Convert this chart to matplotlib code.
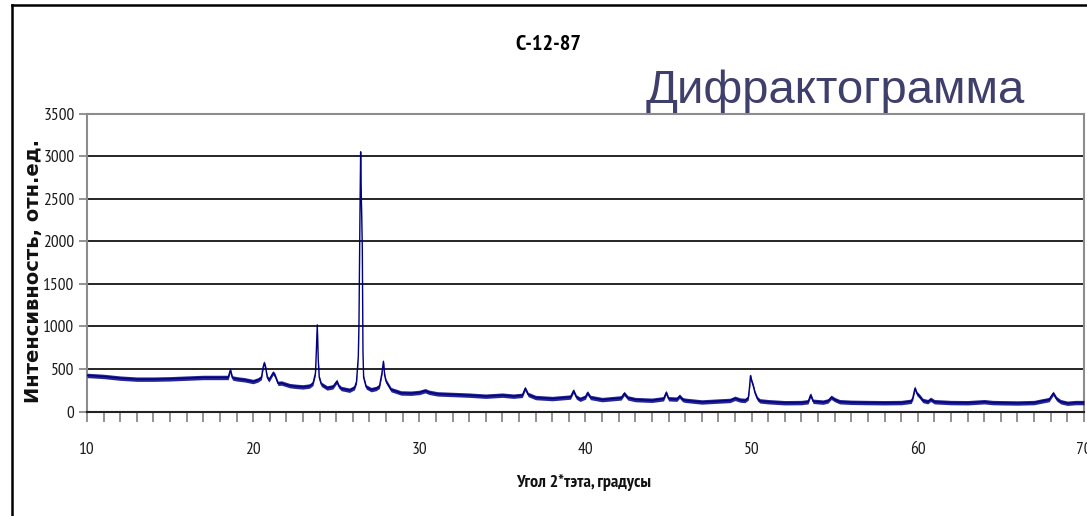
import matplotlib
matplotlib.use("Agg")
import matplotlib.pyplot as plt
from matplotlib import font_manager
from matplotlib.lines import Line2D
from matplotlib.ticker import MultipleLocator

# ---- data ----
two_theta = [10.0, 11.0, 12.0, 13.0, 14.0, 15.0, 16.0, 17.0, 18.0, 18.5, 18.63, 18.75,
             19.0, 19.5, 20.0, 20.3, 20.5, 20.6, 20.67, 20.75, 20.85, 20.95, 21.1, 21.2,
             21.3, 21.5, 21.7, 22.2, 22.6, 23.0, 23.4, 23.6, 23.75, 23.8, 23.86, 23.92,
             23.98, 24.1, 24.45, 24.8, 25.04, 25.15, 25.3, 25.8, 26.1, 26.22, 26.3, 26.33,
             26.37, 26.43, 26.47, 26.51, 26.57, 26.61, 26.65, 26.8, 27.1, 27.4, 27.6, 27.75,
             27.84, 27.92, 28.0, 28.3, 28.9, 29.5, 30.0, 30.35, 30.6, 31.1, 32.0, 33.0,
             34.0, 35.0, 35.66, 36.2, 36.37, 36.55, 37.0, 38.0, 39.1, 39.28, 39.45, 39.68,
             40.0, 40.12, 40.3, 41.0, 42.15, 42.33, 42.55, 43.0, 44.0, 44.7, 44.86, 45.0,
             45.5, 45.66, 45.85, 46.0, 47.0, 48.0, 48.7, 49.0, 49.3, 49.6, 49.8, 49.88,
             49.93, 50.0, 50.1, 50.2, 50.35, 50.5, 51.0, 52.0, 53.0, 53.4, 53.55, 53.7,
             54.3, 54.6, 54.79, 55.0, 55.3, 56.0, 57.0, 58.0, 59.0, 59.6, 59.7, 59.83,
             59.95, 60.1, 60.3, 60.6, 60.77, 61.0, 62.0, 63.0, 64.0, 64.5, 65.0, 66.0,
             67.0, 67.5, 67.9, 68.15, 68.35, 68.6, 69.0, 69.5, 70.0]
intensity = [424, 412, 392, 380, 380, 384, 392, 400, 400, 400, 490, 395,
             384, 372, 352, 372, 400, 520, 572, 520, 400, 372, 420, 455,
             430, 330, 335, 304, 295, 289, 300, 330, 450, 690, 1018, 600,
             400, 320, 277, 290, 355, 300, 270, 250, 280, 350, 560, 647,
             1040, 2334, 3050, 2530, 1941, 700, 400, 289, 257, 270, 296, 450,
             589, 420, 355, 257, 218, 215, 224, 244, 225, 207, 200, 192,
             180, 192, 180, 190, 272, 200, 164, 152, 170, 244, 170, 144,
             170, 220, 165, 140, 160, 212, 160, 140, 132, 150, 224, 150,
             145, 180, 140, 132, 112, 123, 130, 155, 135, 130, 160, 300,
             421, 360, 300, 220, 150, 125, 115, 103, 105, 115, 195, 120,
             110, 125, 167, 140, 115, 108, 105, 103, 105, 120, 160, 274,
             210, 180, 130, 115, 143, 115, 105, 103, 115, 105, 103, 100,
             105, 125, 140, 214, 150, 115, 97, 105, 105]
NOISE = 26  # half-width of the noisy band seen around the trace

x_ticks = [10, 20, 30, 40, 50, 60, 70]
y_ticks = [0, 500, 1000, 1500, 2000, 2500, 3000, 3500]

chart_title = "С-12-87"
slide_title = "Дифрактограмма"
x_label = "Угол 2*тэта, градусы"
y_label = "Интенсивность, отн.ед."

# ---- fonts ----
available = {f.name for f in font_manager.fontManager.ttflist}


def pick(candidates):
    for c in candidates:
        if c in available:
            return [c, "DejaVu Sans"]
    return ["DejaVu Sans"]


narrow_fam = pick(["PT Sans Narrow", "Roboto Condensed", "Fira Sans Condensed",
                   "IBM Plex Sans Condensed", "Liberation Sans"])
regular_fam = pick(["Liberation Sans", "Arimo"])

fig = plt.figure(figsize=(10.87, 5.16), dpi=100)
ax = fig.add_axes([0.0800, 0.2025, 0.9172, 0.5775])

ax.fill_between(two_theta, [v - NOISE for v in intensity], [v + NOISE for v in intensity],
                color="#000080", alpha=0.85, linewidth=0, zorder=3)
ax.plot(two_theta, intensity, color="#000080", linewidth=1.0, zorder=4)

ax.set_xlim(10, 70)
ax.set_ylim(0, 3500)
ax.set_xticks(x_ticks)
ax.set_yticks(y_ticks)
ax.xaxis.set_minor_locator(MultipleLocator(1))
for yv in y_ticks[1:-1]:
    ax.axhline(yv, color="black", linewidth=1.2, zorder=1)

for s in ["left", "top", "right"]:
    ax.spines[s].set_color("#8c8c8c")
    ax.spines[s].set_linewidth(1.5)
ax.spines["bottom"].set_color("#222222")
ax.spines["bottom"].set_linewidth(1.5)

ax.tick_params(axis="x", which="both", direction="out", length=7, width=1.2,
               color="#808080", pad=15, labelsize=12.5)
ax.tick_params(axis="y", which="major", direction="out", length=6, width=1.2,
               color="#808080", pad=3, labelsize=12.5)
for lab in ax.get_xticklabels() + ax.get_yticklabels():
    lab.set_fontfamily(narrow_fam)
    lab.set_color("#1a1a1a")

fig.text(0.5045, 0.913, chart_title, ha="center", va="center", fontsize=16,
         fontweight="bold", family=narrow_fam, color="black")
fig.text(0.7685, 0.823, slide_title, ha="center", va="center", fontsize=34,
         family=regular_fam, color="#3f3f6b")
fig.text(0.5372, 0.0640, x_label, ha="center", va="center", fontsize=13,
         fontweight="bold", family=narrow_fam, color="#111111")
fig.text(0.0305, 0.475, y_label, ha="center", va="center", rotation=90, fontsize=14,
         fontweight="bold", family=["DejaVu Sans"], color="#111111")

# outer slide frame (left and top edges)
fig.add_artist(Line2D([12 / 1087, 12 / 1087], [0, 1 - 5 / 516], transform=fig.transFigure,
                      color="black", linewidth=1.8))
fig.add_artist(Line2D([12 / 1087, 1], [1 - 5 / 516, 1 - 5 / 516], transform=fig.transFigure,
                      color="black", linewidth=1.8))

fig.savefig("out.png", dpi=100)
